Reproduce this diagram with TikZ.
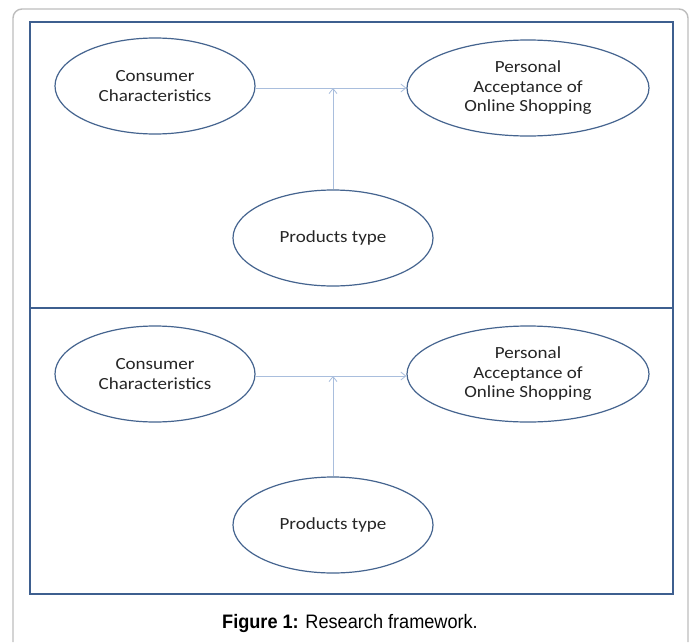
\documentclass[tikz,border=0pt]{standalone}
\usepackage{fontspec}
\setmainfont[FakeStretch=1.12]{Carlito}
\newfontfamily\capfont[FakeStretch=0.93]{Liberation Sans}
\usetikzlibrary{arrows.meta,shapes.geometric}
\definecolor{framblue}{HTML}{3E5F8F}
\definecolor{ellblue}{HTML}{45648F}
\definecolor{arrblue}{HTML}{A9BEDD}
\definecolor{graybord}{HTML}{BDBDBD}
\definecolor{txt}{HTML}{262626}
\tikzset{
  oval/.style={draw=ellblue, line width=1.2pt, ellipse, minimum width=200pt, minimum height=96pt, inner sep=0pt, align=center, font=\fontsize{17}{19.5}\selectfont, text=txt},
  link/.style={draw=arrblue, line width=0.9pt, -{Straight Barb[length=5pt,width=8pt,line width=0.8pt]}},
  panel/.style={draw=framblue, line width=1.5pt},
}
\begin{document}
\begin{tikzpicture}[x=1pt,y=-1pt]
\useasboundingbox (0,0) rectangle (692,642);
\fill[white] (0,0) rectangle (692,642);
% outer gray card
\draw[graybord, line width=1.4pt] (13,642) -- (13,18) arc[start angle=180,end angle=270,radius=9] -- (679,9) arc[start angle=270,end angle=360,radius=9] -- (688,642);
% blue panels
\draw[panel] (30,22) rectangle (673,594);
\draw[panel] (30,308) -- (673,308);
% top diagram
\node[oval] (c1) at (155,86) {Consumer\\Characteristics};
\node[oval, minimum width=242pt] (p1) at (528,88) {Personal\\Acceptance of\\Online Shopping};
\node[oval] (t1) at (333,238) {Products type};
\coordinate (j1) at (333,88);
\draw[link] (c1.east |- j1) -- (p1.west |- j1);
\draw[link] (t1.north) -- (j1);
% bottom diagram
\node[oval] (c2) at (155,374) {Consumer\\Characteristics};
\node[oval, minimum width=242pt] (p2) at (528,374) {Personal\\Acceptance of\\Online Shopping};
\node[oval] (t2) at (333,525) {Products type};
\coordinate (j2) at (333,376);
\draw[link] (c2.east |- j2) -- (p2.west |- j2);
\draw[link] (t2.north) -- (j2);
% caption
\node[font=\capfont\fontsize{19.5}{22}\selectfont, text=black, anchor=base] (cap) at (350,628) {\textbf{Figure 1:} Research framework.};
\end{tikzpicture}
\end{document}
